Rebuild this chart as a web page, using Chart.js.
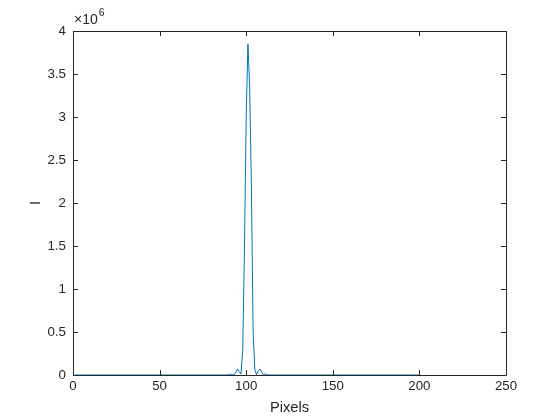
<!DOCTYPE html>
<html>
<head>
<meta charset="utf-8">
<script src="https://cdn.jsdelivr.net/npm/chart.js@4"></script>
<style>
  html, body { margin: 0; padding: 0; background: #fff; }
  #wrap { width: 560px; height: 420px; }
</style>
</head>
<body>
<div id="wrap"><canvas id="myChart" width="560" height="420"></canvas></div>
<script>
// pixel positions where the curve changes (straight segments in between)
const pixels = [1, 88, 89, 90, 91, 92, 93, 94, 95, 96, 97, 98, 99, 100, 101, 102, 103, 104, 105, 106, 107, 108, 109, 110, 111, 112, 113, 200];
// intensity, in units of 1e6
const intensity = [0, 0, 0.004, 0, 0.012, 0.004, 0, 0.03, 0.07, 0.04, 0.01, 0.3, 1.45, 3.0, 3.85, 3.35, 2.2, 0.5, 0.06, 0.005, 0.05, 0.07, 0.03, 0, 0.015, 0.004, 0, 0];
const xTicks = [0, 50, 100, 150, 200, 250];
const yTicks = [0, 0.5, 1, 1.5, 2, 2.5, 3, 3.5, 4];

const ctx = document.getElementById("myChart").getContext("2d");
const axisColor = '#262626';

Chart.defaults.font.family = "'Liberation Sans', Arial, Helvetica, sans-serif";
Chart.defaults.color = axisColor;

const points = pixels.map((p, i) => ({ x: p, y: intensity[i] }));

// MATLAB style box with inward ticks on all four sides + exponent label
const boxPlugin = {
  id: 'box',
  afterDraw(chart) {
    const c = chart.ctx;
    const a = chart.chartArea;
    const xs = chart.scales.x, ys = chart.scales.y;
    const len = 5;
    c.save();
    c.strokeStyle = axisColor;
    c.lineWidth = 1;
    c.beginPath();
    c.rect(Math.round(a.left) + 0.5, Math.round(a.top) + 0.5, Math.round(a.right - a.left), Math.round(a.bottom - a.top));
    xTicks.forEach(t => {
      const px = Math.round(xs.getPixelForValue(t)) + 0.5;
      c.moveTo(px, a.bottom); c.lineTo(px, a.bottom - len);
      c.moveTo(px, a.top); c.lineTo(px, a.top + len);
    });
    yTicks.forEach(t => {
      const py = Math.round(ys.getPixelForValue(t)) + 0.5;
      c.moveTo(a.left, py); c.lineTo(a.left + len, py);
      c.moveTo(a.right, py); c.lineTo(a.right - len, py);
    });
    c.stroke();

    c.fillStyle = axisColor;
    c.textBaseline = 'alphabetic';
    c.textAlign = 'left';
    c.font = "14px 'Liberation Sans', Arial, sans-serif";
    c.fillText('\u00d710', a.left + 1, a.top - 7);
    const w = c.measureText('\u00d710').width;
    c.font = "10.5px 'Liberation Sans', Arial, sans-serif";
    c.fillText('6', a.left + w + 2, a.top - 15);
    c.restore();
  }
};

const lineChart = new Chart(ctx, {
  type: 'line',
  data: {
    datasets: [{
      data: points,
      borderColor: '#0072BD',
      borderWidth: 1,
      pointRadius: 0,
      fill: false,
      tension: 0
    }]
  },
  options: {
    responsive: false,
    animation: false,
    layout: { padding: { left: 0, top: 31, right: 54, bottom: 0 } },
    plugins: {
      legend: { display: false },
      tooltip: { enabled: false }
    },
    scales: {
      x: {
        type: 'linear',
        min: 0,
        max: 250,
        afterBuildTicks: s => { s.ticks = xTicks.map(v => ({ value: v })); },
        afterFit: s => { s.height = 45; },
        grid: { display: false, drawTicks: false },
        border: { display: false },
        ticks: { font: { size: 13.3 }, padding: 3, maxRotation: 0, callback: v => String(v) },
        title: { display: true, text: 'Pixels', font: { size: 14.7 }, padding: { top: 0, bottom: 3 } }
      },
      y: {
        min: 0,
        max: 4,
        afterBuildTicks: s => { s.ticks = yTicks.map(v => ({ value: v })); },
        afterFit: s => { s.width = 73; },
        grid: { display: false, drawTicks: false },
        border: { display: false },
        ticks: { font: { size: 13.3 }, padding: 7, callback: v => String(v) },
        title: { display: true, text: 'I', font: { size: 14.7 }, padding: { top: 27, bottom: 0 } }
      }
    }
  },
  plugins: [boxPlugin]
});
</script>
</body>
</html>
